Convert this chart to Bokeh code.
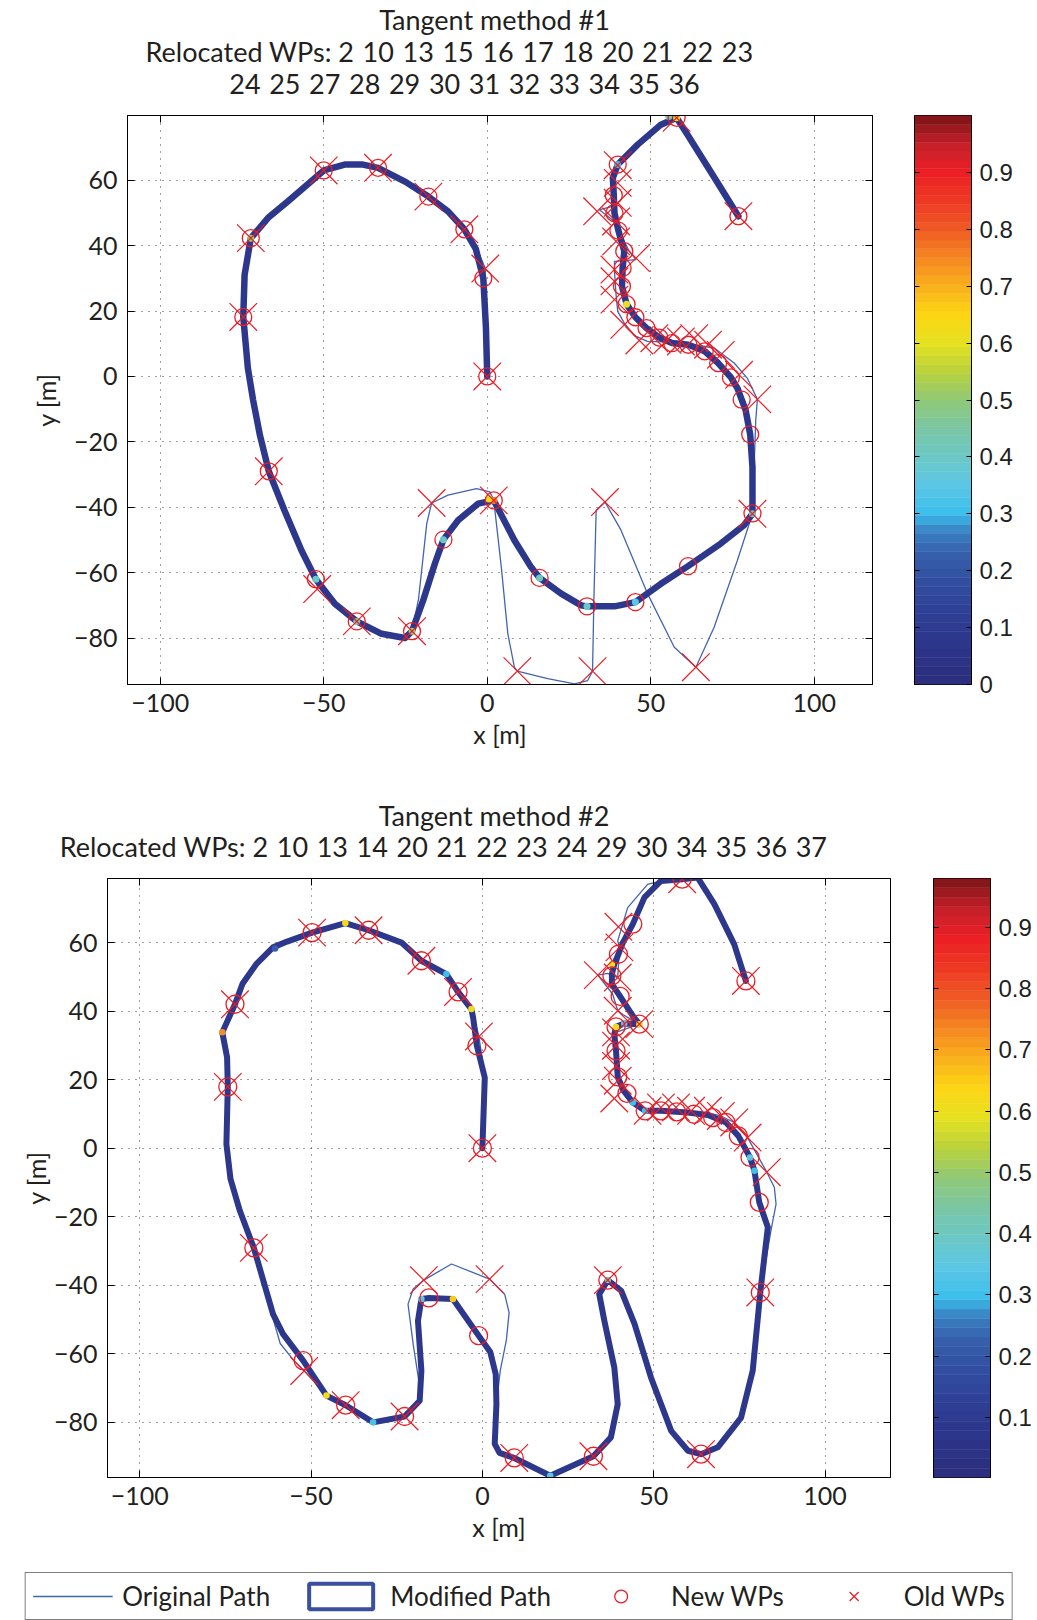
import numpy as np
from bokeh.plotting import figure
from bokeh.models import (Label, FixedTicker, Legend, LegendItem, ColumnDataSource, Range1d, LinearAxis)
from bokeh.layouts import column, row
from bokeh.transform import linear_cmap
from bokeh.embed import file_html
from bokeh.resources import INLINE

SP = " \u200a"
# ---------------- data : Tangent method #1 ----------------
T1_TITLE = ["Tangent method #1",
            "Relocated WPs: " + SP.join(["2", "10", "13", "15", "16", "17", "18", "20", "21", "22", "23"]),
            SP.join(["24", "25", "27", "28", "29", "30", "31", "32", "33", "34", "35", "36"])]

mod1_x = [0, -0.4, -1.2, -3.5, -7, -12, -18, -25, -33.4, -38, -43.6, -50, -61, -67, -72.3, -74.2, -74.6,
          -73.2, -71.6, -69.5, -66.8, -62, -56.8, -52.4, -46.6, -39.9, -32.3, -25.2, -23, -19.6, -16, -13.4,
          -8.9, -2.8, 2, 8.3, 13.4, 16, 22.6, 28.7, 30.5, 38.9, 45.3, 53.1, 61.4, 71.4, 78.5, 81.1, 81.1, 80.4,
          79, 77.8, 76.5, 74.5, 70.6, 66.5, 61.5, 56.5, 52.6, 48.7, 45.3, 42.6, 41.2, 41.4, 41.9, 40.1, 38.9,
          38.7, 38.4, 39.9, 46, 53.1, 57.9, 61.2, 69, 76.8]
mod1_y = [0, 15, 30, 39, 45, 50.5, 55, 59.5, 63.8, 64.8, 64.8, 63, 53.5, 48.5, 42.3, 31, 18.2,
          2.6, -7.2, -18, -29, -41, -53.2, -62, -69.5, -74.9, -78.7, -80, -77.9, -68.5, -57.2, -49.9,
          -44, -38.9, -37.9, -50.1, -58.3, -61.6, -66.4, -70, -70.3, -70.3, -69, -63.4, -58, -51.1, -45.5, -42, -27.7, -17.7,
          -10.3, -7.1, -3.6, -0.3, 4.1, 7.7, 9.7, 10.2, 11.9, 14.8, 18.1, 22.1, 27.6, 33.2, 38.3, 44.6, 50,
          55.4, 60.7, 64.8, 70.9, 77, 79.1, 74, 61.5, 49]

orig1_x = [0, -0.4, -0.6, -3.5, -7, -12, -18, -25, -33.4, -38, -43.6, -50, -61, -67, -72.3, -74.2, -74.6,
           -73.2, -71.6, -69.5, -66.8, -62, -57.5, -52, -46.6, -39.9, -32.3, -25.2, -23, -21, -18.5, -17,
           -12, -3.3, 0.8, 2, 4.3, 6.3, 8.3, 9.2, 18.5, 26.7, 30.7, 32.2, 32.6, 33.3, 36, 40.9, 49, 57.2,
           63.8, 69.4, 76.5, 81.1, 81.6, 82.1, 82.6, 79.5, 75.5, 69.4, 63.3, 56, 49, 45, 41.9, 39.9, 39.4,
           38.9, 38.9, 45.5, 43.4, 40.9, 38.9, 34.3, 38.4, 38.4, 39.9, 46, 53.1, 57.9, 61.2, 69, 76.8]
orig1_y = [0, 15, 33, 40, 45, 50.5, 55, 59.5, 63.8, 64.8, 64.8, 63, 53.5, 48.5, 42.3, 31, 18.2,
           2.6, -7.2, -18, -29, -41, -52, -64, -69.5, -74.9, -78.7, -80, -77.9, -68, -45, -38.7,
           -36.3, -34.3, -35.3, -37.9, -58.3, -78.7, -88.9, -90.1, -92.4, -94, -93, -90.1, -68.5, -40.9, -38.4, -47, -66.4, -82.8,
           -88.9, -76.6, -56.2, -42, -27.7, -13.4, -7, -0.5, 4.1, 8.7, 9.7, 10.5, 10.7, 12.5, 16.3, 19.9, 25,
           32.1, 35.2, 35.7, 38.3, 43.4, 47.4, 51, 52, 59.7, 64.8, 70.9, 77, 79.1, 74, 61.5, 49]

new1_x = [0, -1.2, -7, -18, -33.4, -50, -72.3, -74.6, -66.8, -52.4, -39.9, -23, -13.4, 2, 16, 30.5, 45.3,
          61.4, 81.1, 80.4, 77.8, 74.5, 70.6, 66.5, 61.5, 56.5, 52.6, 48.7, 45.3, 42.6, 41.2, 41.4, 41.9,
          40.1, 38.9, 38.7, 39.9, 57.9, 76.8]
new1_y = [0, 30, 45, 55, 63.8, 63, 42.3, 18.2, -29, -62, -74.9, -77.9, -49.9, -37.9, -61.6, -70.3, -69,
          -58, -41.9, -17.7, -7.1, -0.3, 4.1, 7.7, 9.7, 10.2, 11.9, 14.8, 18.1, 22.1, 27.6, 33.2, 38.3,
          44.6, 50, 55.4, 64.8, 79.1, 49]

old1_x = [0, -0.6, -7, -18, -33.4, -50, -72.3, -74.6, -66.8, -52, -39.9, -23, -17, 2, 9.2, 32.2, 36,
          63.8, 81.1, 82.6, 77, 71.4, 67.5, 63.3, 59.2, 55.1, 51.1, 46.5, 41.9, 38.9, 38.9, 38.9, 45.5,
          39.4, 39.4, 33.6, 39.9, 39.9, 39.9, 57.9, 76.8]
old1_y = [0, 33, 45, 55, 63.8, 63, 42.3, 18.2, -29, -65, -74.9, -77.9, -38.7, -37.9, -90.1, -90.1, -38.4,
          -88.9, -42, -7, 0.5, 6.6, 9.7, 11.7, 10.7, 11.2, 11.7, 11, 15.8, 23.5, 29.1, 32.7, 36.2,
          41.3, 47.4, 50.5, 53.1, 59.2, 64.6, 79.1, 49]

spot1_x = [57.9, 55.5, 2, 0.5, -23, -39.9, -52.4, 16, 30.5, 45.3, 81.1, -72.3, 39.9, -13.4, 42.6]
spot1_y = [79.1, 79.5, -37.9, -37.5, -77.9, -74.9, -62, -61.6, -70.3, -69, -42, 42.3, 64.8, -49.9, 22.1]
spot1_v = [0.65, 0.45, 0.75, 0.62, 0.5, 0.45, 0.4, 0.42, 0.4, 0.35, 0.4, 0.5, 0.3, 0.4, 0.6]

# ---------------- data : Tangent method #2 ----------------
T2_TITLE = ["Tangent method #2",
            "Relocated WPs: " + SP.join(["2", "10", "13", "14", "20", "21", "22", "23", "24", "29", "30",
                                          "34", "35", "36", "37"])]

mod2_x = [0, 0.7, -1.6, -2.7, -3.2, -7.1, -10.5, -17.8, -23.6, -33.2, -40, -49.7, -57, -61.1, -66, -70, -72.2, -75.9,
          -74.5, -74.3, -74.7, -73.5, -70.8, -66.7, -61.1, -58.2, -52.3, -45.5, -39.9, -31.9, -22.7, -18.3,
          -17.8, -18.8, -17.8, -15.6, -8.6, -1.1, 2.3, 3.9, 4.1, 3.6, 5, 9.3, 19.8, 32.4, 37.5, 39.5, 38.5, 35.6,
          34.1, 36.6, 40.5, 44.4, 49.2, 55.1, 60, 63.8, 68.7, 75.5, 78.9, 81.1, 83.3, 80.8, 79.4, 78.1, 74.7,
          71.1, 65.8, 59.9, 52.1, 47.5, 43.9, 41, 39.5, 39, 38.5, 39, 41.4, 45.8, 43.9, 40.2, 37.8, 37.8,
          38.5, 39.7, 41, 43.9, 47.3, 52.1, 58.3, 62.8, 67.7, 73.5, 76.9]
mod2_y = [0, 20.6, 29.9, 38.1, 40.6, 45.6, 50.8, 54.7, 60, 63.6, 65.7, 62.9, 60.3, 58.6, 53.7, 48, 42, 33.8,
          26.5, 17.9, 1.2, -9, -18.2, -29.1, -48.4, -54.2, -62, -72.2, -75, -80, -78.3, -73.7,
          -64.9, -50.4, -44, -43.7, -44, -54.7, -59.5, -66, -74.7, -86.3, -88.9, -90.4, -95.6, -89.9, -84.4, -74.7, -64, -50.4,
          -42.6, -38.5, -41.6, -51.3, -66.9, -82.5, -88.3, -89.3, -87.3, -78.6, -64.9, -42.1, -23.1, -15.8, -6.6, -2.7, 3.6,
          7.5, 9.7, 10.4, 10.9, 10.9, 13.3, 17.2, 20.8, 28.4, 33.3, 35.4, 36.4, 36.2, 38.6, 44.3, 47.9, 50.8,
          53.7, 56.6, 60, 65.4, 73.2, 78, 78.5, 79, 71.2, 59.5, 48.8]

orig2_x = [0, 0.7, -1, -3, -7.1, -10.5, -17.8, -23.6, -33.2, -40, -49.7, -57, -61.1, -66, -70, -72.2, -75.9, -74.5,
           -74.3, -74.7, -73.5, -70.8, -66.7, -61.3, -59, -55, -52, -45.5, -39.9, -31.9, -22.7, -17.8, -20.2,
           -21.7, -20.2, -17.1, -9, 2.1, 6.5, 7.8, 7, 5.2, 4.1, 3.6, 5, 9.3, 19.8, 32.4, 37.5, 39.5, 38.5,
           35.6, 34.1, 36.6, 40.5, 44.4, 49.2, 55.1, 60, 63.8, 68.7, 75.5, 78.9, 81.1, 84.2, 85.7, 85.2, 83,
           77.4, 73.5, 69.6, 65.8, 60.9, 56.5, 52.1, 48.2, 43.5, 40.5, 39.5, 39, 39, 39, 45.8, 41, 39.5, 38,
           33.7, 36.5, 39.5, 40, 39.5, 42.4, 48.2, 54.1, 58.3, 62.8, 67.7, 73.5, 76.9]
orig2_y = [0, 20.6, 32.6, 40, 45.6, 50.8, 54.7, 60, 63.6, 65.7, 62.9, 60.3, 58.6, 53.7, 48, 42, 33.8, 26.5,
           17.9, 1.2, -9, -18.2, -29.1, -49, -57, -62, -65, -72.2, -75, -80, -78.3, -72.7, -57.2,
           -45.5, -41.1, -38.5, -33.8, -38.2, -42.6, -48, -56, -65, -74.7, -86.3, -88.9, -90.4, -95.6, -89.9, -84.4, -74.7, -64,
           -50.4, -42.6, -38.5, -41.6, -51.3, -66.9, -82.5, -88.3, -89.3, -87.3, -78.6, -64.9, -42.1, -24.1, -16.3, -11.4, -7,
           3.1, 7.5, 9.4, 10.3, 10.6, 10.9, 11, 10.9, 13, 16.5, 19.7, 24, 29.9, 33.8, 36.2, 39, 40.1, 45,
           50.5, 51, 49.8, 58.6, 60.5, 70.2, 77, 78.5, 78.5, 79, 71.2, 59.5, 48.8]

new2_x = [0, -1.6, -7.1, -17.8, -33.2, -49.7, -72.2, -74.3, -66.7, -52.3, -39.9, -22.7, -15.6, -1.1, 9.3,
          32.4, 36.6, 63.8, 81.1, 80.8, 78.1, 74.7, 71.1, 67.2, 61.7, 56.7, 52.1, 47.5, 42.2, 39.5, 39, 39,
          45.8, 40.2, 37.8, 39.7, 43.9, 58.3, 76.9]
new2_y = [0, 29.9, 45.6, 54.7, 63.6, 62.9, 42, 17.9, -29.1, -62, -75, -78.3, -43.7, -54.7, -90.4,
          -89.9, -38.5, -89.3, -42.1, -15.8, -2.7, 3.6, 7.5, 8.9, 9.9, 10.6, 10.9, 10.9, 16, 20.8, 28.4, 35.4,
          36.2, 44.3, 50.3, 56.6, 65.4, 78.5, 48.8]

old2_x = [0, -1, -7.1, -17.8, -33.2, -49.7, -72.2, -74.3, -66.7, -52, -39.9, -22.7, -17.1, 2.1, 9.3, 32.4,
          36.6, 63.8, 81.1, 83, 77.4, 73.5, 69.6, 65.8, 60.9, 56.5, 52.1, 48.2, 38.5, 39.5, 39, 39, 39, 45.8,
          39.5, 33.7, 39.5, 40, 39.7, 58.3, 76.9]
old2_y = [0, 32.6, 45.6, 54.7, 63.6, 62.9, 42, 17.9, -29.1, -65, -75, -78.3, -38.5, -38.2, -90.4, -89.9,
          -38.5, -89.3, -42.1, -7, 3.1, 7.5, 9.4, 10.9, 10.9, 11.9, 11.9, 10.9, 14.5, 19.7, 24, 29.9, 33.8, 36.2,
          40.1, 50.5, 49.8, 58.6, 64.6, 78.5, 48.8]

spot2_x = [-40, -75.9, -3.2, -10.5, -45.5, -31.9, -17.8, -8.6, 19.8, 36.6, 39, 45.8, 41.4, 43.9, 47.5,
           78.1, 79.4, -60.5, 37.8]
spot2_y = [65.7, 33.8, 40.6, 50.8, -72.2, -80, -44, -44, -95.6, -38.5, 35.4, 36.2, 36.4, 13.3, 10.9,
           -2.7, -6.6, 58.3, 53.7]
spot2_v = [0.62, 0.72, 0.6, 0.3, 0.62, 0.32, 0.35, 0.65, 0.35, 0.42, 0.62, 0.6, 0.35, 0.3, 0.3,
           0.35, 0.3, 0.22, 0.6]

BASE_V = 0.08

X_TICKS = [-100, -50, 0, 50, 100]
Y_TICKS = [-80, -60, -40, -20, 0, 20, 40, 60]
CB1_TICKS = [0, 0.1, 0.2, 0.3, 0.4, 0.5, 0.6, 0.7, 0.8, 0.9]
CB2_TICKS = [0.1, 0.2, 0.3, 0.4, 0.5, 0.6, 0.7, 0.8, 0.9]
LEGEND_LABELS = ["Original Path", "Modified Path", "New WPs", "Old WPs"]

# ---------------- styling ----------------
FONT = "Lato"
FS = "25px"
FS_T = "27px"
FS_L = "26px"
TXT = "#231f20"
RED = "#ED1C24"
ORIG_COLOR = "#4364AF"

ANCHORS = [(0.00, (43, 46, 124)), (0.06, (44, 52, 136)), (0.12, (46, 62, 148)), (0.18, (50, 78, 160)),
           (0.23, (54, 95, 171)), (0.27, (58, 130, 196)), (0.30, (60, 190, 235)), (0.35, (92, 199, 230)),
           (0.40, (108, 200, 198)), (0.45, (122, 199, 165)), (0.50, (145, 200, 120)), (0.55, (185, 210, 60)),
           (0.60, (228, 225, 32)), (0.65, (253, 214, 20)), (0.70, (250, 176, 28)), (0.75, (245, 135, 34)),
           (0.80, (239, 90, 36)), (0.85, (237, 58, 36)), (0.90, (236, 31, 36)), (0.95, (196, 32, 42)),
           (1.00, (122, 20, 22))]


def make_palette(n=64):
    ps = [a[0] for a in ANCHORS]
    cols = np.array([a[1] for a in ANCHORS], dtype=float)
    out = []
    for i in range(n):
        t = (i + 0.5) / n
        rgb = [np.interp(t, ps, cols[:, k]) for k in range(3)]
        out.append("#%02x%02x%02x" % tuple(int(round(c)) for c in rgb))
    return out


PAL = make_palette(64)


def minus(v):
    s = ("%g" % abs(v))
    return ("\u2212" + s) if v < 0 else s


def style_axis(ax, standoff, label_standoff):
    ax.major_tick_in = 7
    ax.major_tick_out = 0
    ax.minor_tick_line_color = None
    ax.axis_line_color = "black"
    ax.major_tick_line_color = "black"
    ax.major_label_text_font = FONT
    ax.major_label_text_font_size = FS
    ax.major_label_text_color = TXT
    ax.axis_label_text_font = FONT
    ax.axis_label_text_font_size = FS
    ax.axis_label_text_font_style = "normal"
    ax.axis_label_text_color = TXT
    ax.major_label_standoff = standoff
    ax.axis_label_standoff = label_standoff


def tick_only_axis(ticks, tick_len=7):
    # mirrored axis: inner ticks only, its labels are not painted
    return LinearAxis(ticker=FixedTicker(ticks=ticks), major_label_text_font_size="1px",
                      major_label_text_color=None, major_label_standoff=0,
                      major_tick_in=tick_len, major_tick_out=0, minor_tick_line_color=None,
                      axis_line_color="black", major_tick_line_color="black")


def title_fig(height, lines, centers):
    # a strip above a panel that carries its title lines (x: px from left, y: px from top)
    t = figure(width=1037, height=height, min_border=0, x_range=Range1d(0, 1037),
               y_range=Range1d(height, 0), toolbar_location=None, output_backend="svg",
               x_axis_location=None, y_axis_location=None)
    t.grid.visible = False
    t.outline_line_color = None
    for text, (cx, cy) in zip(lines, centers):
        t.add_layout(Label(x=cx, y=cy, text=text, text_align="center", text_baseline="middle",
                           text_font=FONT, text_font_size=FS_T, text_color=TXT))
    return t


def main_plot(xr, yr, fw, fh, bl, br, bt, bb, mx, my, ox, oy, nx, ny, wx, wy,
              sx, sy, sv, cmap_hi, lw, csize, ylab_standoff):
    p = figure(frame_width=fw, frame_height=fh, x_range=Range1d(*xr), y_range=Range1d(*yr),
               min_border_left=bl, min_border_right=br, min_border_top=bt, min_border_bottom=bb,
               toolbar_location=None, output_backend="svg", x_axis_label="x [m]", y_axis_label="y [m]",
               title=None)
    p.outline_line_color = "black"
    p.outline_line_width = 1
    p.xaxis.ticker = FixedTicker(ticks=X_TICKS)
    p.yaxis.ticker = FixedTicker(ticks=Y_TICKS)
    p.xaxis.major_label_overrides = {t: minus(t) for t in X_TICKS}
    p.yaxis.major_label_overrides = {t: minus(t) for t in Y_TICKS}
    style_axis(p.xaxis[0], 9, 4)
    style_axis(p.yaxis[0], 10, ylab_standoff)
    p.add_layout(tick_only_axis(X_TICKS), "above")
    p.add_layout(tick_only_axis(Y_TICKS), "right")
    p.xgrid.ticker = FixedTicker(ticks=X_TICKS)
    p.ygrid.ticker = FixedTicker(ticks=Y_TICKS)
    p.grid.grid_line_color = "black"
    p.grid.grid_line_alpha = 0.75
    p.grid.grid_line_dash = "1 6"
    p.grid.grid_line_width = 1

    # original path
    p.line(ox, oy, line_color=ORIG_COLOR, line_width=1.3)
    # modified path (base value through colour map)
    base_col = PAL[int(BASE_V / cmap_hi * len(PAL))]
    p.line(mx, my, line_color=base_col, line_width=lw, line_join="round", line_cap="round")
    src = ColumnDataSource(dict(x=sx, y=sy, v=sv))
    p.scatter("x", "y", source=src, marker="circle", size=lw + 0.5, line_color=None,
              fill_color=linear_cmap("v", PAL, 0, cmap_hi))
    # waypoints
    p.scatter(nx, ny, marker="circle", size=csize, fill_color=None, line_color=RED, line_width=1.3)
    p.scatter(wx, wy, marker="x", size=39, line_color=RED, line_width=1.2)
    return p


def colorbar_fig(lo, hi, ticks, fh, br, bt, bb):
    c = figure(frame_width=57, frame_height=fh, x_range=Range1d(0, 1), y_range=Range1d(lo, hi),
               min_border_left=0, min_border_right=br, min_border_top=bt, min_border_bottom=bb,
               toolbar_location=None, output_backend="svg", x_axis_location=None, y_axis_location="right")
    lev = np.linspace(lo, hi, len(PAL) + 1)
    c.quad(left=0, right=1, bottom=lev[:-1], top=lev[1:], fill_color=PAL, line_color=PAL, line_width=0.5)
    c.grid.visible = False
    c.outline_line_color = "black"
    ax = c.yaxis[0]
    ax.ticker = FixedTicker(ticks=ticks)
    ax.major_tick_in = 5
    ax.major_tick_out = 0
    ax.minor_tick_line_color = None
    ax.axis_line_color = "black"
    ax.major_label_text_font = "Liberation Sans"
    ax.major_label_text_font_size = "24px"
    ax.major_label_text_color = TXT
    ax.major_label_standoff = 8
    c.add_layout(tick_only_axis(ticks, 5), "left")
    return c


t1 = title_fig(110, T1_TITLE, [(494, 18.6), (449, 50.6), (464, 82.6)])
p1 = main_plot((-110.0, 117.8), (-94.2, 79.8), 745, 569, 127, 42, 5, 86,
               mod1_x, mod1_y, orig1_x, orig1_y, new1_x, new1_y, old1_x, old1_y,
               spot1_x, spot1_y, spot1_v, 1.0, 6.5, 17, 10)
c1 = colorbar_fig(0, 1.0, CB1_TICKS, 569, 66, 5, 86)

t2 = title_fig(103, T2_TITLE, [(493.5, 45), (443, 76)])
p2 = main_plot((-109.4, 119.1), (-96.1, 78.7), 783, 599, 107, 43, 5, 95,
               mod2_x, mod2_y, orig2_x, orig2_y, new2_x, new2_y, old2_x, old2_y,
               spot2_x, spot2_y, spot2_v, 0.98, 6, 18, 0)
c2 = colorbar_fig(0.002, 0.98, CB2_TICKS, 599, 47, 5, 95)

# legend figure: its renderers hold one segment of the real data, kept outside the visible range
lg = figure(width=1037, height=48, min_border=0, x_range=Range1d(500, 501), y_range=Range1d(500, 501),
            toolbar_location=None, output_backend="svg", x_axis_location=None, y_axis_location=None)
lg.grid.visible = False
lg.outline_line_color = None
r1 = lg.line(x=orig2_x[:2], y=orig2_y[:2], line_color=ORIG_COLOR, line_width=1.3)
r2 = lg.quad(left=mod2_x[:1], right=mod2_x[1:2], bottom=mod2_y[:1], top=mod2_y[1:2],
             fill_color="white", line_color="#3A4FA0", line_width=4)
r3 = lg.scatter(x=new2_x[:1], y=new2_y[:1], marker="circle", fill_color=None, line_color=RED, line_width=1.3)
r4 = lg.scatter(x=old2_x[:1], y=old2_y[:1], marker="x", line_color=RED, line_width=1.2)
legend = Legend(items=[LegendItem(label=LEGEND_LABELS[0], renderers=[r1]),
                       LegendItem(label=LEGEND_LABELS[1], renderers=[r2]),
                       LegendItem(label=LEGEND_LABELS[2], renderers=[r3]),
                       LegendItem(label=LEGEND_LABELS[3], renderers=[r4])],
                location="center", orientation="horizontal", glyph_width=80, glyph_height=32,
                label_standoff=10, spacing=30, padding=7, margin=0,
                border_line_color="black", border_line_width=1,
                label_text_font=FONT, label_text_font_size=FS_L, label_text_color=TXT)
lg.add_layout(legend)

layout = column(t1, row(p1, c1), t2, row(p2, c2), lg)
open("out.html", "w").write(file_html(layout, INLINE))
